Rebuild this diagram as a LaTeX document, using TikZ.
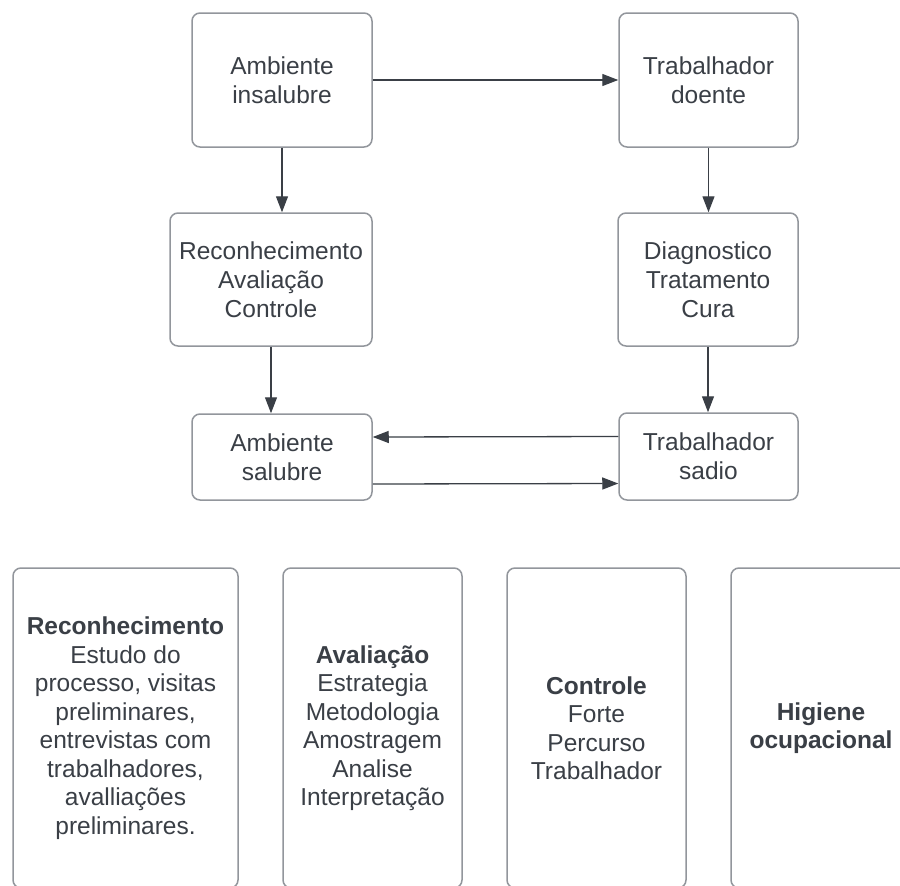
\documentclass[tikz,border=0pt]{standalone}
\usepackage{fontspec}
\setmainfont{Liberation Sans}
\usetikzlibrary{arrows.meta}
\definecolor{txt}{HTML}{3A3F46}
\definecolor{bord}{HTML}{92969C}
\definecolor{arr}{HTML}{3A3F46}
\tikzset{
  box/.style={draw=bord, line width=1.5pt, rounded corners=8pt, inner sep=0pt,
    align=center, text=txt, font=\fontsize{24.5}{29}\selectfont},
  bigbox/.style={box, font=\fontsize{24.5}{28.5}\selectfont, minimum height=320pt},
  conn/.style={draw=arr, line width=1.3pt, -{Triangle[length=16pt,width=12pt]}}
}
\begin{document}
\begin{tikzpicture}[x=1pt,y=-1pt]
\path[use as bounding box] (0,0) rectangle (900,886);
\clip (0,0) rectangle (900,886);
\fill[white] (0,0) rectangle (900,886);
% top flow
\node[box, minimum width=180pt, minimum height=134pt] (A) at (282,80) {Ambiente\\insalubre};
\node[box, minimum width=179pt, minimum height=134pt] (B) at (708.5,80) {Trabalhador\\doente};
\node[box, minimum width=202pt, minimum height=133pt] (C) at (271,279.5) {Reconhecimento\\Avaliação\\Controle};
\node[box, minimum width=180pt, minimum height=133pt] (D) at (708,279.5) {Diagnostico\\Tratamento\\Cura};
\node[box, minimum width=180pt, minimum height=86pt] (E) at (282,457) {Ambiente\\salubre};
\node[box, minimum width=179pt, minimum height=87pt] (F) at (708.5,456.5) {Trabalhador\\sadio};
\draw[conn] (A.east) -- (B.west);
\draw[conn] (A.south) -- (A.south |- C.north);
\draw[conn] (B.south) -- (B.south |- D.north);
\draw[conn] (C.south) -- (C.south |- E.north);
\draw[conn] (D.south) -- (D.south |- F.north);
\draw[conn] ([yshift=20pt]F.west) -- ([yshift=20pt]E.east);
\draw[conn] ([yshift=-27pt]E.east) -- ([yshift=-27pt]F.west);
% bottom boxes
\node[bigbox, minimum width=225pt] (G) at (125.5,728) {\textbf{Reconhecimento}\\Estudo do\\processo, visitas\\preliminares,\\entrevistas com\\trabalhadores,\\avalliações\\preliminares.};
\node[bigbox, minimum width=179pt] (H) at (372.5,728) {\textbf{Avaliação}\\Estrategia\\Metodologia\\Amostragem\\Analise\\Interpretação};
\node[bigbox, minimum width=179pt] (I) at (596.5,728) {\textbf{Controle}\\Forte\\Percurso\\Trabalhador};
\node[bigbox, minimum width=180pt] (J) at (821,728) {\textbf{Higiene}\\\textbf{ocupacional}};
\end{tikzpicture}
\end{document}
